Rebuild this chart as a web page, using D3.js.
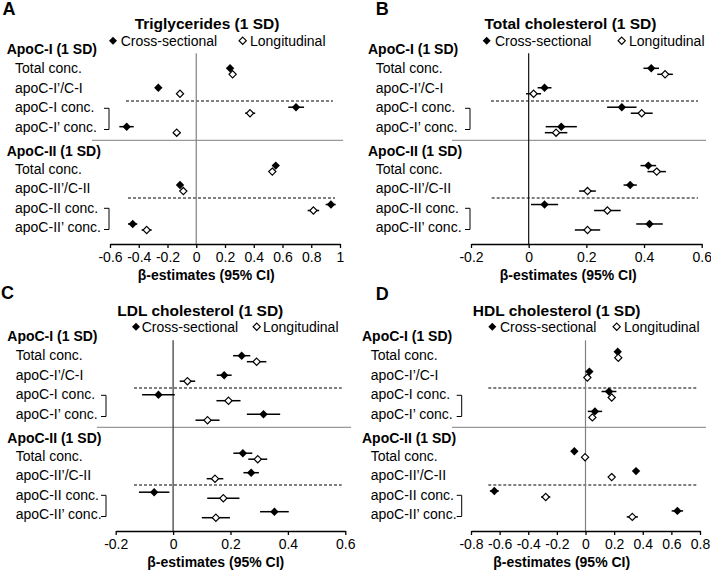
<!DOCTYPE html>
<html>
<head>
<meta charset="utf-8">
<script src="https://cdn.jsdelivr.net/npm/d3@7"></script>
<style>
  html, body { margin: 0; padding: 0; background: #fff; }
  svg { display: block; font-family: "Liberation Sans", Arial, sans-serif; }
</style>
</head>
<body>
<svg id="chart" width="711" height="571"></svg>
<script>
// ---------------- DATA ----------------
const panelLetters = ["A", "B", "C", "D"];
const panelTitles = ["Triglycerides (1 SD)", "Total cholesterol (1 SD)", "LDL cholesterol (1 SD)", "HDL cholesterol (1 SD)"];
const groupLabels = ["ApoC-I (1 SD)", "ApoC-II (1 SD)"];
const categoriesI = ["Total conc.", "apoC-I\u2019/C-I", "apoC-I conc.", "apoC-I\u2019 conc."];
const categoriesII = ["Total conc.", "apoC-II\u2019/C-II", "apoC-II conc.", "apoC-II\u2019 conc."];
const seriesNames = ["Cross-sectional", "Longitudinal"];
const axisTitle = "\u03b2-estimates (95% CI)";

const ticksA = [-0.6, -0.4, -0.2, 0, 0.2, 0.4, 0.6, 0.8, 1];
const ticksB = [-0.2, 0, 0.2, 0.4, 0.6];
const ticksC = [-0.2, 0, 0.2, 0.4, 0.6];
const ticksD = [-0.8, -0.6, -0.4, -0.2, 0, 0.2, 0.4, 0.6, 0.8];

// rows: 4 ApoC-I rows then 4 ApoC-II rows
// A: Triglycerides
const tgCrossEst = [0.235, -0.264, 0.694, -0.484, 0.553, -0.113, 0.937, -0.442];
const tgCrossLo  = [0.220, -0.280, 0.640, -0.535, 0.535, -0.130, 0.900, -0.475];
const tgCrossHi  = [0.250, -0.250, 0.750, -0.435, 0.570, -0.095, 0.970, -0.410];
const tgLongEst  = [0.253, -0.113, 0.374, -0.136, 0.529, -0.090, 0.815, -0.345];
const tgLongLo   = [0.240, -0.125, 0.340, -0.160, 0.515, -0.105, 0.775, -0.380];
const tgLongHi   = [0.265, -0.100, 0.410, -0.110, 0.545, -0.075, 0.855, -0.310];
// B: Total cholesterol
const tcCrossEst = [0.425, 0.055, 0.323, 0.113, 0.415, 0.352, 0.055, 0.419];
const tcCrossLo  = [0.398, 0.031, 0.272, 0.059, 0.388, 0.329, 0.008, 0.373];
const tcCrossHi  = [0.452, 0.079, 0.374, 0.167, 0.442, 0.375, 0.102, 0.465];
const tcLongEst  = [0.473, 0.017, 0.392, 0.095, 0.444, 0.204, 0.273, 0.204];
const tcLongLo   = [0.446, -0.009, 0.354, 0.056, 0.412, 0.175, 0.227, 0.160];
const tcLongHi   = [0.500, 0.043, 0.430, 0.134, 0.476, 0.233, 0.319, 0.248];
// C: LDL cholesterol
const ldlCrossEst = [0.239, 0.178, -0.051, 0.315, 0.243, 0.272, -0.066, 0.353];
const ldlCrossLo  = [0.209, 0.152, -0.108, 0.257, 0.210, 0.245, -0.119, 0.303];
const ldlCrossHi  = [0.269, 0.204, 0.006, 0.373, 0.276, 0.299, -0.013, 0.403];
const ldlLongEst  = [0.291, 0.050, 0.193, 0.120, 0.295, 0.146, 0.175, 0.149];
const ldlLongLo   = [0.257, 0.023, 0.151, 0.078, 0.262, 0.117, 0.119, 0.100];
const ldlLongHi   = [0.325, 0.077, 0.235, 0.162, 0.328, 0.175, 0.231, 0.198];
// D: HDL cholesterol
const hdlCrossEst = [0.225, 0.027, 0.164, 0.066, -0.078, 0.353, -0.637, 0.642];
const hdlCrossLo  = [0.210, 0.012, 0.112, 0.016, -0.093, 0.338, -0.668, 0.602];
const hdlCrossHi  = [0.240, 0.042, 0.216, 0.116, -0.063, 0.368, -0.606, 0.682];
const hdlLongEst  = [0.229, 0.013, 0.183, 0.048, -0.003, 0.183, -0.278, 0.327];
const hdlLongLo   = [0.214, 0.000, 0.163, 0.030, -0.018, 0.168, -0.310, 0.288];
const hdlLongHi   = [0.244, 0.026, 0.203, 0.066, 0.012, 0.198, -0.246, 0.366];

// ---------------- LAYOUT ----------------
const layout = [
  { oy: 0,   ticks: ticksA, range: [110, 340],   rowY0: 48.84, rowStep: 19.46, zeroColor: "#808080",
    letter: [2.5, 15], title: [207, 28.5], legY: 40.7, leg: [113, 120.7, 242.7, 250],
    headX: 6.7, labX: 15, brX: 109, sep: [92, 343], dashI: [126, 333], dashII: [128, 335], axTitleX: 206.3,
    cross: [tgCrossEst, tgCrossLo, tgCrossHi], long: [tgLongEst, tgLongLo, tgLongHi] },
  { oy: 0,   ticks: ticksB, range: [471, 701.7], rowY0: 48.84, rowStep: 19.46, zeroColor: "#111",
    letter: [375.7, 15], title: [570.5, 29], legY: 40.7, leg: [486.7, 495, 621.7, 629],
    headX: 368, labX: 375.7, brX: 470, sep: [452, 706], dashI: [491, 698], dashII: [491.7, 698], axTitleX: 568.3,
    cross: [tcCrossEst, tcCrossLo, tcCrossHi], long: [tcLongEst, tcLongLo, tcLongHi] },
  { oy: 287, ticks: ticksC, range: [115.7, 345.3], rowY0: 336.2, rowStep: 19.5, zeroColor: "#333",
    letter: [1, 299], title: [200.3, 315.5], legY: 326.7, leg: [136, 141.7, 256.7, 263],
    headX: 7.3, labX: 15.7, brX: 106, sep: [97, 351], dashI: [134, 341.7], dashII: [134, 341.7], axTitleX: 215.8,
    cross: [ldlCrossEst, ldlCrossLo, ldlCrossHi], long: [ldlLongEst, ldlLongLo, ldlLongHi] },
  { oy: 287, ticks: ticksD, range: [471, 700],   rowY0: 331.8, rowStep: 19.9, zeroColor: "#808080",
    letter: [375.7, 300], title: [556.7, 315.5], legY: 326.7, leg: [492.3, 500, 616.7, 624],
    headX: 362, labX: 370.7, brX: 461.7, sep: [452, 706], dashI: [488.3, 696.7], dashII: [488.3, 696.7], axTitleX: 561.7,
    cross: [hdlCrossEst, hdlCrossLo, hdlCrossHi], long: [hdlLongEst, hdlLongLo, hdlLongHi] }
];

const svg = d3.select("#chart");
const diamond = r => `M0,${-r}L${r},0L0,${r}L${-r},0Z`;
const rowSlots = [1, 2, 3, 4, 6, 7, 8, 9];

layout.forEach((L, p) => {
  const g = svg.append("g");
  const oy = L.oy;
  const x = d3.scaleLinear().domain([L.ticks[0], L.ticks[L.ticks.length - 1]]).range(L.range);
  const yRow = d3.scaleLinear().domain([0, 9]).range([L.rowY0, L.rowY0 + 9 * L.rowStep]);
  const yLab = d3.scaleLinear().domain([0, 9]).range([oy + 48.84, oy + 48.84 + 9 * 19.46]);
  const axisY = oy + 244;

  // Panel letter & title
  g.append("text").attr("x", L.letter[0]).attr("y", L.letter[1])
    .attr("font-size", 18).attr("font-weight", "bold").text(panelLetters[p]);
  g.append("text").attr("x", L.title[0]).attr("y", L.title[1]).attr("text-anchor", "middle")
    .attr("font-size", 15.5).attr("font-weight", "bold").text(panelTitles[p]);

  // Legend
  g.append("path").attr("d", diamond(4)).attr("transform", `translate(${L.leg[0]},${L.legY})`)
    .attr("fill", "#000");
  g.append("text").attr("x", L.leg[1]).attr("y", L.legY + 5).attr("font-size", 14).text(seriesNames[0]);
  g.append("path").attr("d", diamond(3.6)).attr("transform", `translate(${L.leg[2]},${L.legY})`)
    .attr("fill", "#fff").attr("stroke", "#000").attr("stroke-width", 1.2);
  g.append("text").attr("x", L.leg[3]).attr("y", L.legY + 5).attr("font-size", 14).text(seriesNames[1]);

  // Group headers
  g.append("text").attr("x", L.headX).attr("y", oy + 53.5).attr("font-size", 14).attr("font-weight", "bold").text(groupLabels[0]);
  g.append("text").attr("x", L.headX).attr("y", oy + 156).attr("font-size", 14).attr("font-weight", "bold").text(groupLabels[1]);

  // Category labels
  categoriesI.forEach((c, i) => {
    g.append("text").attr("x", L.labX).attr("y", yLab(i + 1) + 5).attr("font-size", 14).text(c);
  });
  categoriesII.forEach((c, i) => {
    g.append("text").attr("x", L.labX).attr("y", yLab(i + 6) + 8.3).attr("font-size", 14).text(c);
  });

  // Brackets
  [[oy + 108.3, oy + 129.5], [oy + 208.3, oy + 229.5]].forEach(([t, b]) => {
    g.append("path").attr("d", `M${L.brX - 5},${t}H${L.brX}V${b}H${L.brX - 5}`)
      .attr("fill", "none").attr("stroke", "#000").attr("stroke-width", 1);
  });

  // Separator (solid) and dashed lines
  g.append("line").attr("x1", L.sep[0]).attr("x2", L.sep[1]).attr("y1", oy + 140.3).attr("y2", oy + 140.3)
    .attr("stroke", "#999").attr("stroke-width", 1.2);
  g.append("line").attr("x1", L.dashI[0]).attr("x2", L.dashI[1]).attr("y1", oy + 101).attr("y2", oy + 101)
    .attr("stroke", "#000").attr("stroke-width", 1).attr("stroke-dasharray", "3,2");
  g.append("line").attr("x1", L.dashII[0]).attr("x2", L.dashII[1]).attr("y1", oy + 198).attr("y2", oy + 198)
    .attr("stroke", "#000").attr("stroke-width", 1).attr("stroke-dasharray", "3,2");

  // Zero line
  g.append("line").attr("x1", x(0)).attr("x2", x(0)).attr("y1", oy + 53.3).attr("y2", axisY)
    .attr("stroke", L.zeroColor).attr("stroke-width", 1.2);

  // X axis
  const fmt = v => (Math.abs(v) < 1e-9 ? "0" : String(+v.toFixed(1)));
  const axis = d3.axisBottom(x).tickValues(L.ticks).tickSize(4).tickSizeOuter(0).tickPadding(4)
    .tickFormat(fmt);
  const ax = g.append("g").attr("transform", `translate(0,${axisY})`).call(axis);
  ax.select(".domain").attr("stroke", "#000").attr("stroke-width", 1.5);
  ax.selectAll(".tick line").attr("stroke", "#000").attr("stroke-width", 1.3);
  ax.selectAll(".tick text").attr("font-size", 14).attr("fill", "#000")
    .attr("font-family", "Liberation Sans, Arial, sans-serif").attr("dy", "0.71em");
  g.append("text").attr("x", L.axTitleX).attr("y", axisY + 36).attr("text-anchor", "middle")
    .attr("font-size", 14).attr("font-weight", "bold").text(axisTitle);

  // Marks
  const series = [
    { vals: L.cross, dy: 0, open: false },
    { vals: L.long, dy: 6, open: true }
  ];
  series.forEach(s => {
    const [est, lo, hi] = s.vals;
    est.forEach((v, i) => {
      const yy = yRow(rowSlots[i]) + s.dy;
      g.append("line").attr("x1", x(lo[i])).attr("x2", x(hi[i])).attr("y1", yy).attr("y2", yy)
        .attr("stroke", "#000").attr("stroke-width", 1.5);
      const m = g.append("path").attr("transform", `translate(${x(v)},${yy})`);
      if (s.open) m.attr("d", diamond(3.6)).attr("fill", "#fff").attr("stroke", "#000").attr("stroke-width", 1.2);
      else m.attr("d", diamond(4.2)).attr("fill", "#000");
    });
  });
});
</script>
</body>
</html>
